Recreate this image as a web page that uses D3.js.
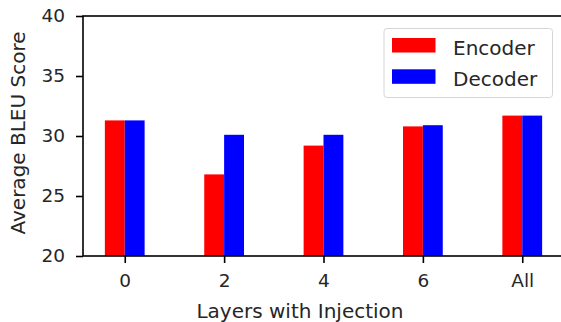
<!DOCTYPE html>
<html>
<head>
<meta charset="utf-8">
<script src="https://cdn.jsdelivr.net/npm/d3@7"></script>
<style>
  html, body { margin: 0; padding: 0; background: #fff; }
  svg { display: block; font-family: "DejaVu Sans", sans-serif; }
</style>
</head>
<body>
<svg id="chart" width="561" height="322"></svg>
<script>
const categories = ["0", "2", "4", "6", "All"];
const encoder = [31.3, 26.8, 29.2, 30.8, 31.7];
const decoder = [31.3, 30.1, 30.1, 30.9, 31.7];
const seriesNames = ["Encoder", "Decoder"];
const seriesColors = ["#ff0000", "#0000ff"];
const yTicks = [20, 25, 30, 35, 40];

const svg = d3.select("#chart");
const pLeft = 83, pTop = 16, pBottom = 256, pRight = 564;
const tickFs = 18.5, labelFs = 20;

const x = d3.scaleLinear().domain([-0.42, categories.length - 1 + 0.42]).range([pLeft, pRight]);
const y = d3.scaleLinear().domain([20, 40]).range([pBottom, pTop]);
const barW = 0.2;

const series = [encoder, decoder];
series.forEach((vals, s) => {
  svg.append("g").selectAll("rect").data(vals).join("rect")
    .attr("x", (d, i) => x(i + (s === 0 ? -barW : 0)))
    .attr("width", (d, i) => x(i + barW) - x(i))
    .attr("y", d => y(d))
    .attr("height", d => y(20) - y(d))
    .attr("fill", seriesColors[s]);
});

// axes
const xAxis = d3.axisBottom(x).tickValues(d3.range(categories.length))
  .tickFormat(i => categories[i]).tickSize(7).tickPadding(11);
const yAxis = d3.axisLeft(y).tickValues(yTicks).tickSize(7).tickPadding(11);

const gx = svg.append("g").attr("transform", `translate(0,${pBottom})`).call(xAxis);
const gy = svg.append("g").attr("transform", `translate(${pLeft},0)`).call(yAxis);
[gx, gy].forEach(g => {
  g.select(".domain").remove();
  g.selectAll(".tick line").attr("stroke", "#000").attr("stroke-width", 1.6);
  g.selectAll(".tick text").attr("font-size", tickFs).attr("fill", "#262626").attr("font-family", "DejaVu Sans");
});

// spines
svg.append("rect").attr("x", pLeft).attr("y", pTop).attr("width", pRight - pLeft).attr("height", pBottom - pTop)
  .attr("fill", "none").attr("stroke", "#000").attr("stroke-width", 1.6);

// axis labels
svg.append("text").attr("x", 300).attr("y", 318)
  .attr("text-anchor", "middle").attr("font-size", labelFs).attr("fill", "#262626")
  .text("Layers with Injection");
svg.append("text").attr("transform", `translate(25,133) rotate(-90)`)
  .attr("text-anchor", "middle").attr("font-size", labelFs).attr("fill", "#262626")
  .text("Average BLEU Score");

// legend
const lg = svg.append("g");
lg.append("rect").attr("x", 384).attr("y", 28.5).attr("width", 168.5).attr("height", 69)
  .attr("rx", 3).attr("fill", "#fff").attr("fill-opacity", 0.8)
  .attr("stroke", "#d6d6d6").attr("stroke-width", 1);
seriesNames.forEach((n, i) => {
  lg.append("rect").attr("x", 392).attr("y", 38 + i * 31.3).attr("width", 43.5).attr("height", 14.5)
    .attr("fill", seriesColors[i]);
  lg.append("text").attr("x", 453).attr("y", 54.5 + i * 31.3)
    .attr("font-size", labelFs).attr("fill", "#262626").text(n);
});
</script>
</body>
</html>
